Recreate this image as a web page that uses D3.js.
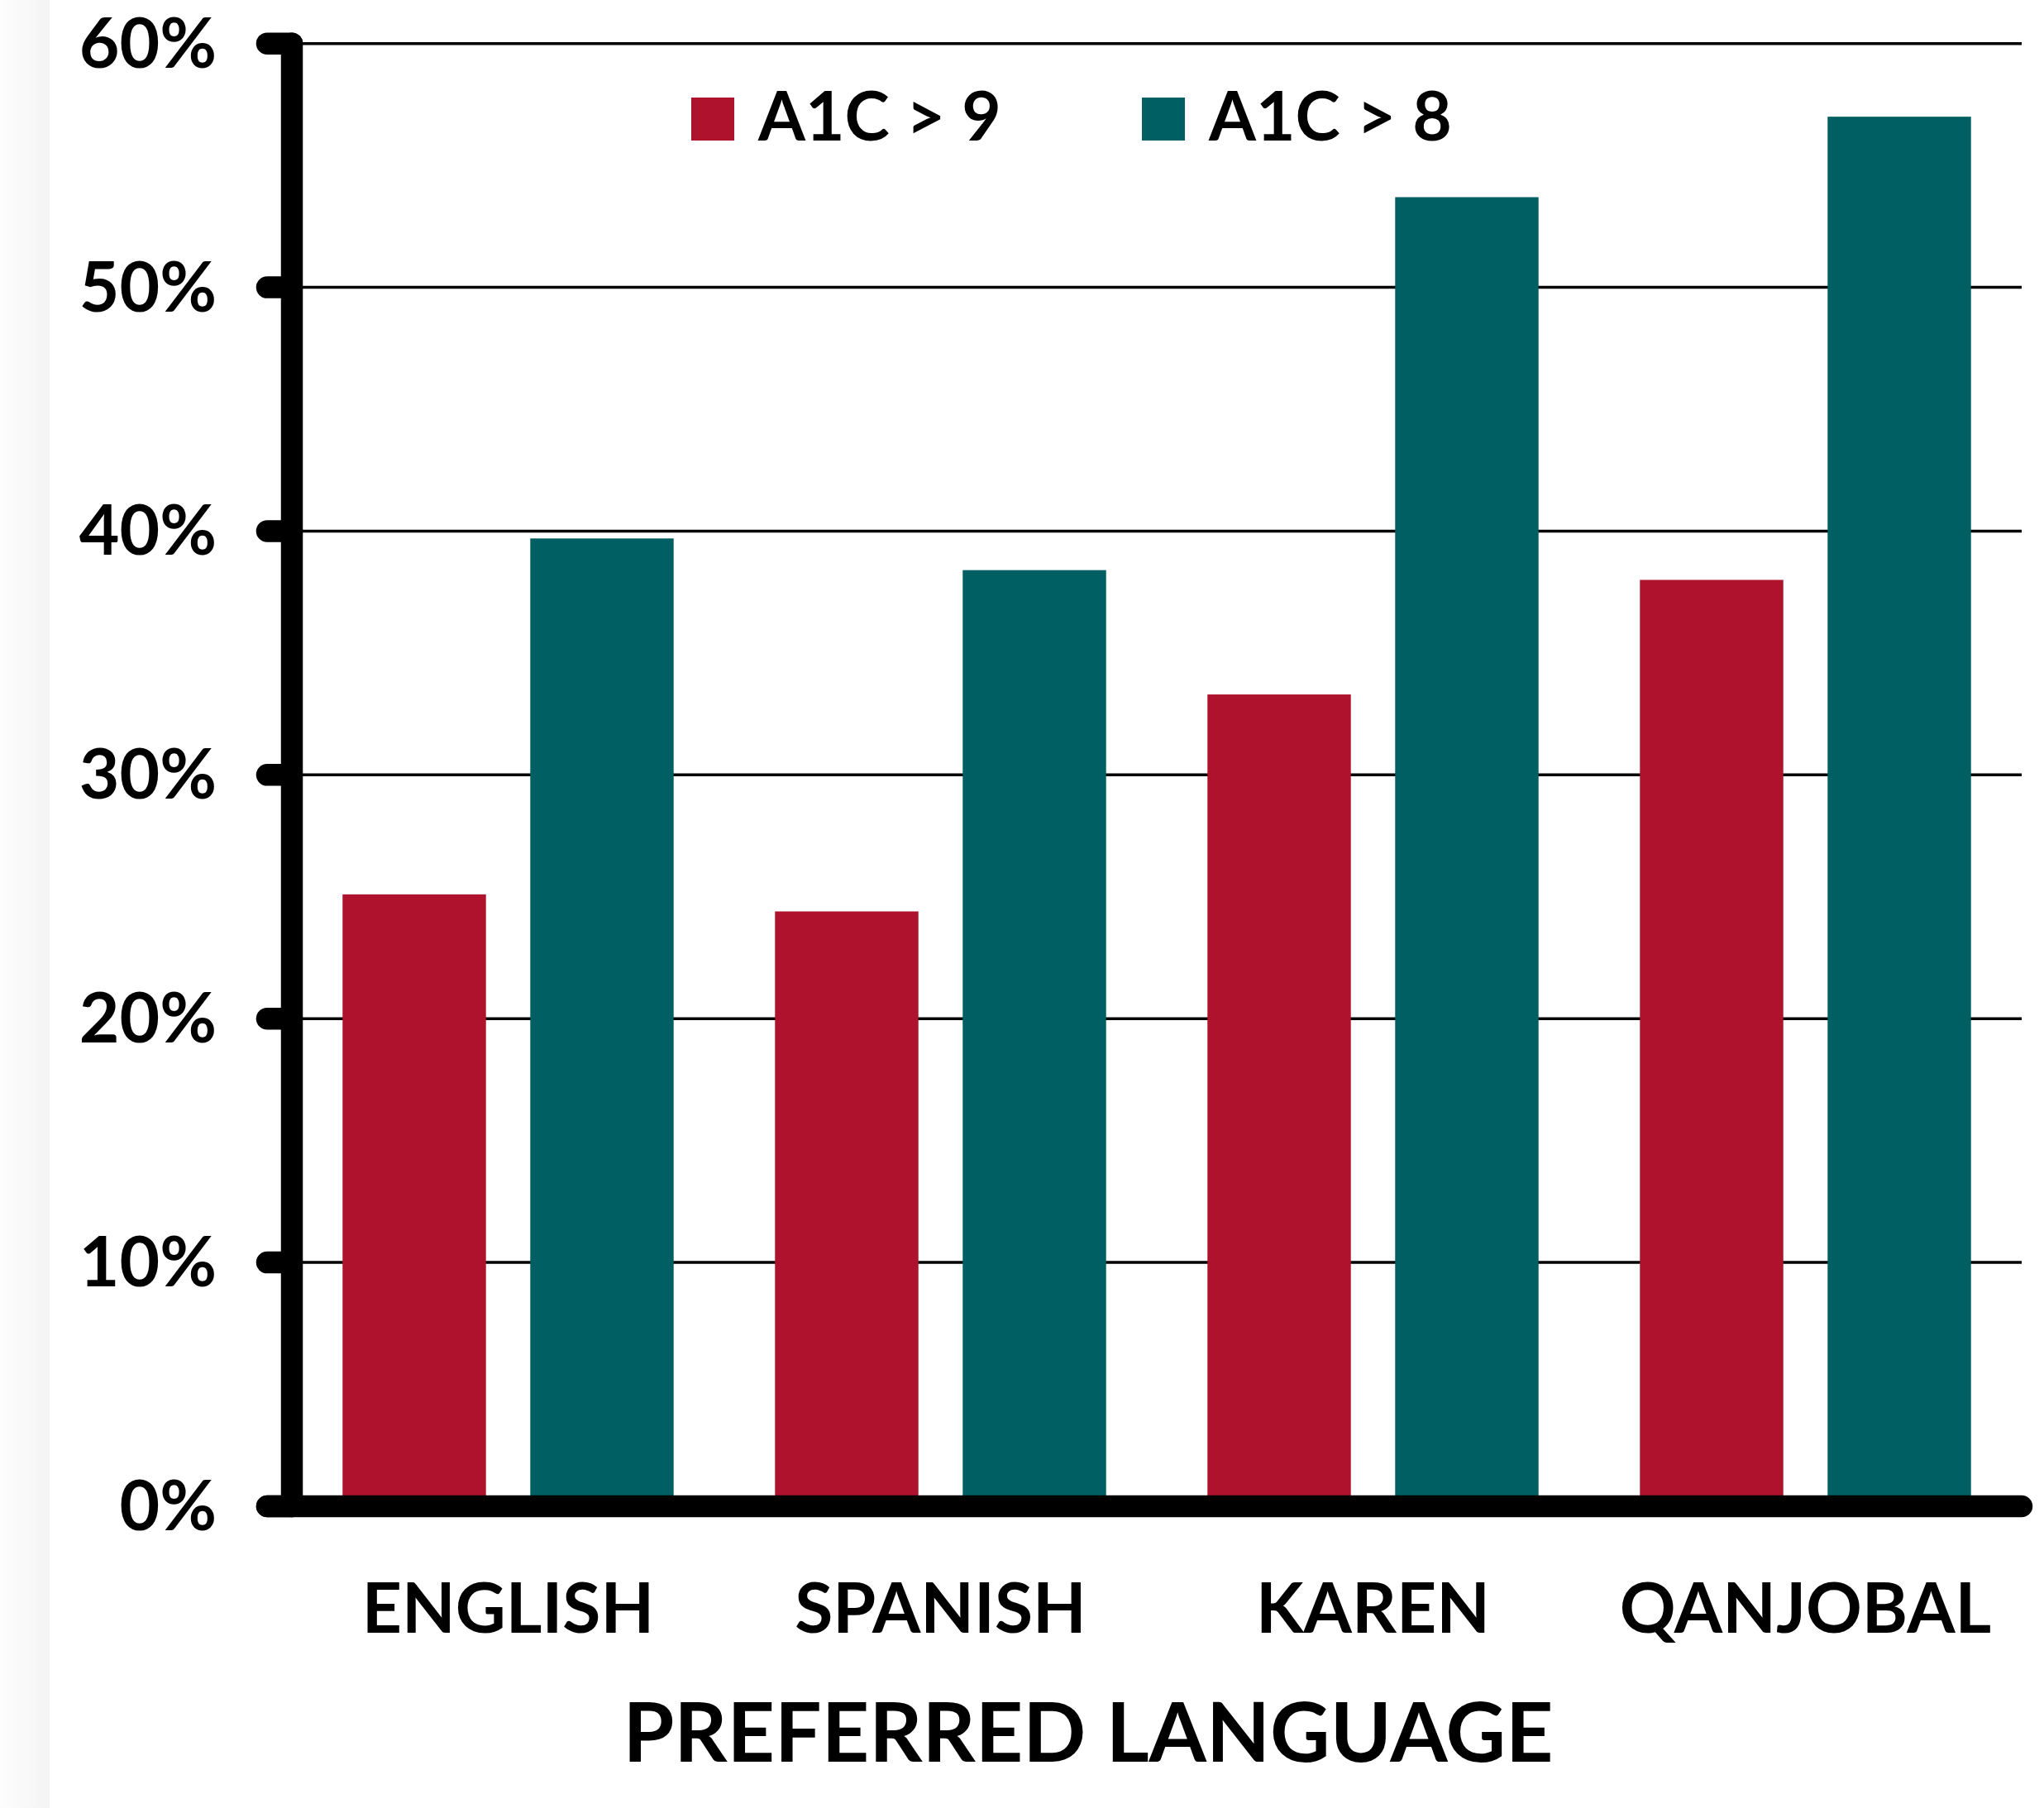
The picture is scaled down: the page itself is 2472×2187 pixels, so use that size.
<!DOCTYPE html>
<html>
<head>
<meta charset="utf-8">
<script src="https://cdn.jsdelivr.net/npm/d3@7"></script>
<style>
  body { margin: 0; background: #fff; }
  text { font-family: Lato, "Open Sans", sans-serif; font-weight: bold; fill: #000; }
</style>
</head>
<body>
<script>
// data
let languages = ['ENGLISH', 'SPANISH', 'KAREN', 'QANJOBAL']
let seriesNames = ['A1C > 9', 'A1C > 8']
let a1cOver9 = [25.1, 24.4, 33.3, 38.0]
let a1cOver8 = [39.7, 38.4, 53.7, 57.0]
let yTicks = [0, 10, 20, 30, 40, 50, 60]
let colors = ['#ae122d', '#005f63']

let W = 2472, H = 2187
let plotLeft = 353, plotRight = 2445, plotTop = 52.7, plotBottom = 1822

var svg = d3.select('body').append('svg').attr('width', W).attr('height', H)

// faint grey strip on the far left
var grad = svg.append('defs').append('linearGradient').attr('id', 'strip')
grad.append('stop').attr('offset', '0%').attr('stop-color', '#fdfdfd')
grad.append('stop').attr('offset', '100%').attr('stop-color', '#f4f4f4')
svg.append('rect').attr('x', 0).attr('y', 0).attr('width', 60).attr('height', H).attr('fill', 'url(#strip)')

var x0 = d3.scaleBand().domain(languages).range([plotLeft, plotRight]).padding(0)
var x1 = d3.scaleBand().domain(seriesNames).range([0, x0.bandwidth()]).paddingInner(0.236).paddingOuter(0.27)
var y = d3.scaleLinear().domain([0, 60]).range([plotBottom, plotTop])

// gridlines
svg.append('g').selectAll('line').data(yTicks.filter(d => d > 0)).join('line')
  .attr('x1', plotLeft).attr('x2', plotRight)
  .attr('y1', d => y(d)).attr('y2', d => y(d))
  .attr('stroke', '#000').attr('stroke-width', 3.5)

// bars
let rows = languages.map((l, i) => ({ lang: l, vals: [a1cOver9[i], a1cOver8[i]] }))
var groups = svg.append('g').selectAll('g').data(rows).join('g')
  .attr('transform', d => 'translate(' + x0(d.lang) + ',0)')
groups.selectAll('rect').data(d => d.vals.map((v, j) => ({ s: seriesNames[j], v: v, j: j }))).join('rect')
  .attr('x', d => x1(d.s))
  .attr('width', x1.bandwidth())
  .attr('y', d => y(d.v))
  .attr('height', d => y(0) - y(d.v))
  .attr('fill', d => colors[d.j])

// axis: thick lines with round ends
var ax = svg.append('g').attr('stroke', '#000').attr('stroke-width', 26.5).attr('stroke-linecap', 'round')
ax.selectAll('.tick').data(yTicks).join('line')
  .attr('x1', plotLeft - 30).attr('x2', plotLeft)
  .attr('y1', d => y(d)).attr('y2', d => y(d))
ax.append('line').attr('x1', plotLeft).attr('x2', plotLeft).attr('y1', y(60)).attr('y2', y(0))
ax.append('line').attr('x1', plotLeft - 30).attr('x2', plotRight).attr('y1', y(0)).attr('y2', y(0))

// y tick labels
svg.append('g').selectAll('text').data(yTicks).join('text')
  .attr('x', 262).attr('y', d => y(d) + 29)
  .attr('text-anchor', 'end')
  .style('font-size', '84px')
  .text(d => d + '%')

// category labels
svg.append('g').selectAll('text').data(languages).join('text')
  .attr('x', d => x0(d) + x0.bandwidth() / 2)
  .attr('y', 1975)
  .attr('text-anchor', 'middle')
  .style('font-size', '84px')
  .text(d => d)

// axis title
svg.append('text').attr('x', 1316).attr('y', 2131).attr('text-anchor', 'middle')
  .style('font-size', '100px').text('PREFERRED LANGUAGE')

// legend
let legX = [836, 1381]
var leg = svg.append('g').selectAll('g').data(seriesNames).join('g')
  .attr('transform', (d, i) => 'translate(' + legX[i] + ',118)')
leg.append('rect').attr('width', 52).attr('height', 52).attr('fill', (d, i) => colors[i])
leg.append('text').attr('x', 81).attr('y', 52).style('font-size', '82px').text(d => d)
</script>
</body>
</html>
